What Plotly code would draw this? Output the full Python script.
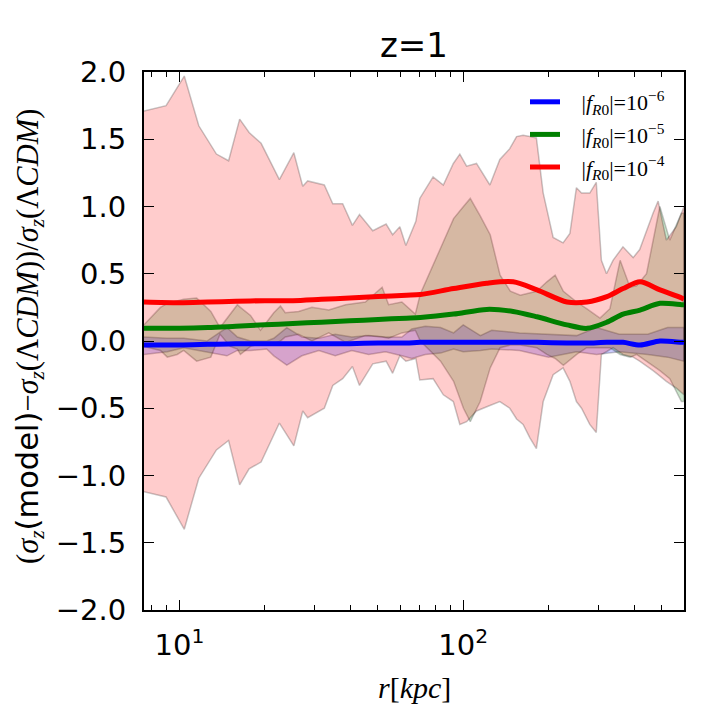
import plotly.graph_objects as go

# ---------------- data ----------------
model_names = ["|<i>f</i><sub><i>R</i>0</sub>|=10<sup>−6</sup>",
               "|<i>f</i><sub><i>R</i>0</sub>|=10<sup>−5</sup>",
               "|<i>f</i><sub><i>R</i>0</sub>|=10<sup>−4</sup>"]

# mean curves
r_line = [7.5, 10, 12.6, 15.8, 20.0, 25.1, 31.6, 39.8, 50.1, 63.1, 70.6, 92.5,
          121, 150, 182, 232, 273, 321, 366, 420, 494, 589, 600]
y_fR6 = [-0.03, -0.03, -0.025, -0.02, -0.02, -0.02, -0.02, -0.02, -0.015, -0.015, -0.01, -0.01,
         -0.01, -0.01, -0.01, -0.015, -0.015, -0.01, -0.01, -0.03, 0.0, -0.01, -0.01]
y_fR5 = [0.095, 0.095, 0.10, 0.11, 0.12, 0.13, 0.14, 0.15, 0.16, 0.17, 0.175, 0.20,
         0.235, 0.22, 0.18, 0.12, 0.094, 0.14, 0.20, 0.23, 0.28, 0.27, 0.27]
y_fR4 = [0.29, 0.285, 0.29, 0.295, 0.30, 0.30, 0.31, 0.32, 0.33, 0.34, 0.345, 0.39,
         0.43, 0.44, 0.38, 0.29, 0.29, 0.33, 0.39, 0.44, 0.38, 0.32, 0.31]

# scatter bands (upper / lower envelopes)
r_band4 = [7.5, 8.97, 10.4, 11.7, 13.5, 14.9, 16.3, 17.6, 19.4, 22.5, 25.3, 27.2, 28.3,
           32.4, 34.7, 37.6, 40.7, 43.1, 48.0, 53.5, 56.4, 59.8, 62.8, 68.1, 70.3, 78.3,
           85.1, 92.3, 97.3, 102.8, 111.4, 124.2, 134.6, 145.9, 154.2, 162.6, 171.8,
           181.1, 191.4, 207.5, 224.9, 237.7, 250.6, 261.2, 279.3, 294.4, 306.9, 319.9,
           337.3, 365.6, 397.2, 418.8, 466.7, 486.4, 520.0, 563.6, 600]
up_fR4 = [1.71, 1.75, 1.97, 1.60, 1.39, 1.34, 1.65, 1.55, 1.47, 1.20, 1.40, 1.15, 1.19,
          1.16, 1.02, 1.02, 0.86, 0.94, 0.82, 0.87, 0.79, 0.85, 0.71, 0.89, 1.06, 1.22,
          1.16, 1.32, 1.39, 1.30, 1.32, 1.16, 1.35, 1.43, 1.52, 1.53, 1.52,
          1.51, 1.10, 0.77, 0.73, 0.80, 1.14, 1.10, 1.10, 1.18, 0.60, 0.50,
          0.60, 0.70, 0.62, 0.68, 0.95, 1.04, 0.75, 0.85, 1.00]
lo_fR4 = [-1.12, -1.16, -1.40, -1.02, -0.81, -0.74, -1.07, -0.95, -0.90, -0.61, -0.78, -0.52, -0.57,
          -0.50, -0.33, -0.28, -0.19, -0.33, -0.17, -0.15, -0.24, -0.11, -0.15, -0.13, -0.29, -0.28,
          -0.40, -0.45, -0.62, -0.60, -0.52, -0.48, -0.45, -0.50, -0.58, -0.62, -0.72,
          -0.80, -0.45, -0.25, -0.20, -0.30, -0.45, -0.50, -0.62, -0.68, -0.10, -0.08,
          -0.05, -0.10, -0.12, -0.15, -0.22, -0.25, -0.30, -0.35, -0.40]

r_band5 = [7.5, 8.57, 9.06, 9.82, 10.35, 11.5, 12.9, 13.9, 15.1, 16.0, 16.4, 17.8, 19.3,
           21.5, 22.7, 23.6, 26.3, 29.3, 33.6, 38.5, 45.2, 51.8, 54.6, 60.8, 67.8, 70.6,
           83.2, 92.5, 100.2, 105.9, 114.8, 124.5, 134.9, 146.6, 158.9, 181.6, 197.2,
           210.9, 225.4, 251.2, 272.3, 303.4, 328.9, 357.3, 387.3, 408.3, 442.6, 493.3,
           534.6, 587.5, 600]
up_fR5 = [0.12, 0.25, 0.28, 0.30, 0.31, 0.32, 0.22, 0.10, 0.20, 0.27, 0.25, 0.19, 0.08,
          0.21, 0.26, 0.21, 0.22, 0.25, 0.23, 0.27, 0.29, 0.40, 0.27, 0.29, 0.20, 0.35,
          0.69, 0.91, 1.00, 1.06, 0.93, 0.79, 0.49, 0.37, 0.34, 0.37, 0.44,
          0.49, 0.37, 0.29, 0.24, 0.17, 0.24, 0.60, 0.40, 0.41, 0.50, 1.00,
          0.75, 0.95, 0.95]
lo_fR5 = [-0.04, -0.07, -0.12, -0.10, -0.07, -0.15, -0.12, 0.05, -0.04, -0.06, -0.10, -0.04, -0.02,
          -0.02, 0.0, 0.03, 0.05, 0.0, 0.06, -0.01, 0.04, 0.03, 0.02, 0.06, 0.08, 0.0,
          -0.15, -0.30, -0.50, -0.60, -0.45, -0.20, -0.05, -0.03, -0.03, -0.05, -0.10,
          -0.13, -0.18, -0.10, -0.05, -0.05, -0.05, -0.10, -0.12, -0.10, -0.15, -0.22,
          -0.28, -0.45, -0.45]

r_band6 = [7.5, 9.06, 10.35, 12.5, 14.7, 16.0, 17.8, 20.3, 21.5, 23.9, 27.0, 31.0, 35.4,
           40.5, 46.4, 53.2, 60.8, 65.9, 73.5, 83.2, 92.5, 100, 115, 126, 158, 200, 251,
           295, 355, 447, 525, 600]
up_fR6 = [0.03, 0.02, 0.02, 0.0, 0.10, 0.03, 0.0, 0.0, 0.02, 0.10, 0.03, 0.02, 0.05,
          0.03, 0.04, 0.03, 0.03, 0.09, 0.11, 0.10, 0.06, 0.12, 0.04, 0.08, 0.06, 0.05, 0.04,
          0.10, 0.05, 0.05, 0.10, 0.10]
lo_fR6 = [-0.10, -0.08, -0.05, -0.08, -0.11, -0.07, -0.07, -0.06, -0.11, -0.18, -0.11, -0.07, -0.11,
          -0.07, -0.10, -0.08, -0.11, -0.13, -0.10, -0.09, -0.06, -0.08, -0.07, -0.06, -0.07, -0.12, -0.08,
          -0.10, -0.08, -0.10, -0.12, -0.15]

y_tickvals = [-2.0, -1.5, -1.0, -0.5, 0.0, 0.5, 1.0, 1.5, 2.0]
y_ticktext = ["−2.0", "−1.5", "−1.0", "−0.5", "0.0", "0.5", "1.0", "1.5", "2.0"]
x_tickvals = [10, 100]
x_ticktext = ["10<sup>1</sup>", "10<sup>2</sup>"]
x_minorvals = [8, 9, 20, 30, 40, 50, 60, 70, 80, 90, 200, 300, 400, 500]

# ---------------- figure ----------------
fig = go.Figure()

band_sets = [
    (r_band6, up_fR6, lo_fR6, "rgba(0,0,255,0.2)"),
    (r_band5, up_fR5, lo_fR5, "rgba(0,128,0,0.2)"),
    (r_band4, up_fR4, lo_fR4, "rgba(255,0,0,0.2)"),
]
for rr, up, lo, fc in band_sets:
    fig.add_trace(go.Scatter(
        x=list(rr) + list(rr)[::-1],
        y=list(up) + list(lo)[::-1],
        fill="toself", fillcolor=fc, mode="lines",
        line=dict(color="rgba(0,0,0,0.22)", width=1.5),
        showlegend=False, hoverinfo="skip"))

NB = "\u00a0\u00a0\u00a0"   # gap between legend line and label, as in the reference
line_sets = [(y_fR6, "#0000ff", model_names[0]),
             (y_fR5, "#008000", model_names[1]),
             (y_fR4, "#ff0000", model_names[2])]
for i, (yy, col, name) in enumerate(line_sets):
    fig.add_trace(go.Scatter(
        x=r_line, y=yy, mode="lines", name=NB + name, legendgroup=str(i),
        line=dict(color=col, width=5, shape="spline", smoothing=0.8)))

# the page body adds an 8px offset; compensate so the frame lands where the reference has it
OFF = 8
PL, PR, PT, PB = 144, 684, 72, 610          # target frame in window pixels
L, T = PL - OFF, PT - OFF
R, B = 720 - PR + OFF, 720 - PB + OFF
pw, ph = PR - PL, PB - PT

def px(xw):   # window x -> paper x
    return (xw - PL) / pw

def py(yw):   # window y -> paper y
    return (PB - yw) / ph

fig.update_layout(
    width=720, height=720,
    margin=dict(l=L, r=R, t=T, b=B),
    paper_bgcolor="white", plot_bgcolor="white",
    title=dict(text="z=1", x=((PL + PR) / 2 - OFF) / 720, xanchor="center",
               y=1 - (45 - OFF) / 720, yanchor="middle",
               font=dict(family="DejaVu Sans", size=34, color="black")),
    legend=dict(x=px(670), xanchor="right", y=py(81), yanchor="top",
                bgcolor="rgba(0,0,0,0)", borderwidth=0,
                font=dict(family="Liberation Serif", size=22, color="black"),
                traceorder="grouped", tracegroupgap=1, itemwidth=30),
    showlegend=True,
)

fig.update_xaxes(
    type="log", range=[0.875061, 2.778151],
    tickmode="array", tickvals=x_tickvals, ticktext=x_ticktext,
    ticks="inside", ticklen=10, tickwidth=1.3, tickcolor="black",
    minor=dict(tickmode="array", tickvals=x_minorvals, ticks="inside",
               ticklen=5, tickwidth=1.3, tickcolor="black", showgrid=False),
    showline=True, linecolor="black", linewidth=2, mirror="ticks",
    showgrid=False, zeroline=False,
    tickfont=dict(family="DejaVu Sans", size=29, color="black"),
    ticklabelstandoff=8,
)
fig.update_yaxes(
    range=[-2, 2], tickmode="array", tickvals=y_tickvals, ticktext=y_ticktext,
    ticks="inside", ticklen=10, tickwidth=1.3, tickcolor="black",
    showline=True, linecolor="black", linewidth=2, mirror="ticks",
    showgrid=False, zeroline=False,
    tickfont=dict(family="DejaVu Sans", size=29, color="black"),
    ticklabelstandoff=10,
)

ytitle = ("(<i>σ</i><sub><i>z</i></sub>"
          "<span style='font-family:DejaVu Sans'>(model)</span>"
          "−<i>σ</i><sub><i>z</i></sub>(Λ<i>CDM</i>))/<i>σ</i><sub><i>z</i></sub>(Λ<i>CDM</i>)")
fig.add_annotation(text=ytitle, textangle=-90, showarrow=False,
                   xref="paper", yref="paper",
                   x=px(29), y=py(337),
                   xanchor="center", yanchor="middle",
                   font=dict(family="Liberation Serif", size=30.5, color="black"))
fig.add_annotation(text="<i>r</i>[<i>kpc</i>]", showarrow=False,
                   xref="paper", yref="paper",
                   x=0.5, y=py(687),
                   xanchor="center", yanchor="middle",
                   font=dict(family="Liberation Serif", size=30, color="black"))

fig.write_html("out.html")
